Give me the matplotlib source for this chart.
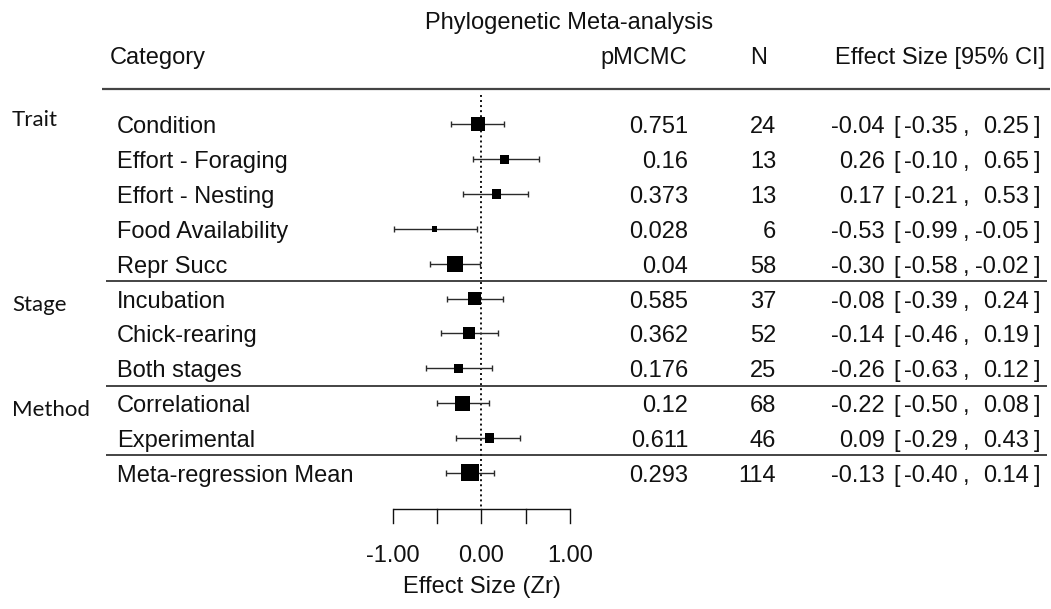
import matplotlib
matplotlib.use("Agg")
import matplotlib.pyplot as plt
from matplotlib.transforms import blended_transform_factory
import numpy as np

# ---- data ----
categories = ["Condition", "Effort - Foraging", "Effort - Nesting", "Food Availability",
              "Repr Succ", "Incubation", "Chick-rearing", "Both stages",
              "Correlational", "Experimental", "Meta-regression Mean"]
group_labels = ["Trait", "Stage", "Method"]
group_first_row = [0, 5, 8]
separator_after = [4, 7, 9]
estimate = [-0.04, 0.26, 0.17, -0.53, -0.30, -0.08, -0.14, -0.26, -0.22, 0.09, -0.13]
ci_low = [-0.35, -0.10, -0.21, -0.99, -0.58, -0.39, -0.46, -0.63, -0.50, -0.29, -0.40]
ci_high = [0.25, 0.65, 0.53, -0.05, -0.02, 0.24, 0.19, 0.12, 0.08, 0.43, 0.14]
pmcmc = ["0.751", "0.16", "0.373", "0.028", "0.04", "0.585", "0.362", "0.176",
         "0.12", "0.611", "0.293"]
n_obs = [24, 13, 13, 6, 58, 37, 52, 25, 68, 46, 114]
x_ticks = [-1.0, -0.5, 0.0, 0.5, 1.0]
x_tick_labels = ["-1.00", "", "0.00", "", "1.00"]

# ---- layout (pixels) ----
W, H = 1051, 609
PX_ZERO, PX_UNIT = 481.5, 88.5        # horizontal position of 0 and pixels per unit
ROW0, ROW_STEP = 124.3, 34.85         # vertical position of first row and row spacing

FONT = "Liberation Sans"
FS = 17.0
INK = "#111111"

fig = plt.figure(figsize=(W / 100, H / 100), dpi=100)
fig.patch.set_facecolor("white")
ax = fig.add_axes([0, 0, 1, 1])
ax.set_xlim(-PX_ZERO / PX_UNIT, (W - PX_ZERO) / PX_UNIT)
ax.set_ylim((H - ROW0) / ROW_STEP, -ROW0 / ROW_STEP)
ax.axis("off")

tr = blended_transform_factory(ax.transAxes, ax.transData)


def fx(px):
    return px / W


def ry(py):
    return (py - ROW0) / ROW_STEP


BASE = 9.0 / ROW_STEP  # text baseline offset below a row centre
rows = np.arange(len(categories))


def txt(xpx, y, s, ha="left", **kw):
    kw.setdefault("family", FONT)
    kw.setdefault("fontsize", FS)
    kw.setdefault("color", INK)
    ax.text(fx(xpx), y, s, ha=ha, va="baseline", transform=tr, **kw)


# header
txt(569, ry(29), "Phylogenetic Meta-analysis", ha="center")
txt(110, ry(64), "Category")
txt(687, ry(64), "pMCMC", ha="right")
txt(759, ry(64), "N", ha="center")
txt(1045, ry(64), "Effect Size [95% CI]", ha="right")

# rule under the header and separators between groups
ax.plot([fx(102), fx(1050)], [-1, -1], transform=tr, color="#444444", lw=1.6,
        solid_capstyle="butt")
for r in separator_after:
    ax.plot([fx(106), fx(1047)], [r + 0.5, r + 0.5], transform=tr, color="#111111",
            lw=1.1, solid_capstyle="butt")

# group labels
for lab, r in zip(group_labels, group_first_row):
    txt(12, r + BASE - 0.2 if lab == "Trait" else r + BASE + 0.1, lab,
        family=["Lato", "DejaVu Sans"], fontsize=16.0)

# row texts
for i, cat in enumerate(categories):
    y = i + BASE
    txt(117, y, cat)
    txt(688, y, pmcmc[i], ha="right")
    txt(776, y, str(n_obs[i]), ha="right")
    txt(885, y, f"{estimate[i]:.2f}", ha="right")
    txt(893, y, "[")
    txt(958, y, f"{ci_low[i]:.2f}", ha="right")
    txt(963, y, ",")
    txt(1029, y, f"{ci_high[i]:.2f}", ha="right")
    txt(1034, y, "]")

# reference line at zero
axis_row = ry(509)
ax.plot([0, 0], [-0.85, axis_row], color=INK, lw=1.4, linestyle=(0, (1, 1.6)))

# confidence intervals
est = np.array(estimate)
lo = np.array(ci_low)
hi = np.array(ci_high)
ax.errorbar(est, rows, xerr=[est - lo, hi - est], fmt="none", ecolor="#2a2a2a",
            elinewidth=1.0, capsize=2.5, capthick=1.0, zorder=2)

# squares sized by inverse-variance weight
se = (hi - lo) / 3.92
w = 1.0 / se ** 2
psize = 0.5 + (w - w.min()) / (w.max() - w.min())
side_pt = psize * 11.5 * 0.72
ax.scatter(est, rows, marker="s", s=side_pt ** 2, color="black", linewidths=0, zorder=3)

# x axis
tick_len = 14 / ROW_STEP
ax.plot([x_ticks[0], x_ticks[-1]], [axis_row, axis_row], color=INK, lw=1.0,
        solid_capstyle="butt")
for t, lab in zip(x_ticks, x_tick_labels):
    ax.plot([t, t], [axis_row, axis_row + tick_len], color=INK, lw=1.0)
    if lab:
        ax.text(t, ry(562), lab, ha="center", va="baseline", family=FONT,
                fontsize=FS, color=INK)
ax.text(0, ry(593), "Effect Size (Zr)", ha="center", va="baseline", family=FONT,
        fontsize=FS, color=INK)

fig.savefig("out.png", dpi=100, facecolor="white")
